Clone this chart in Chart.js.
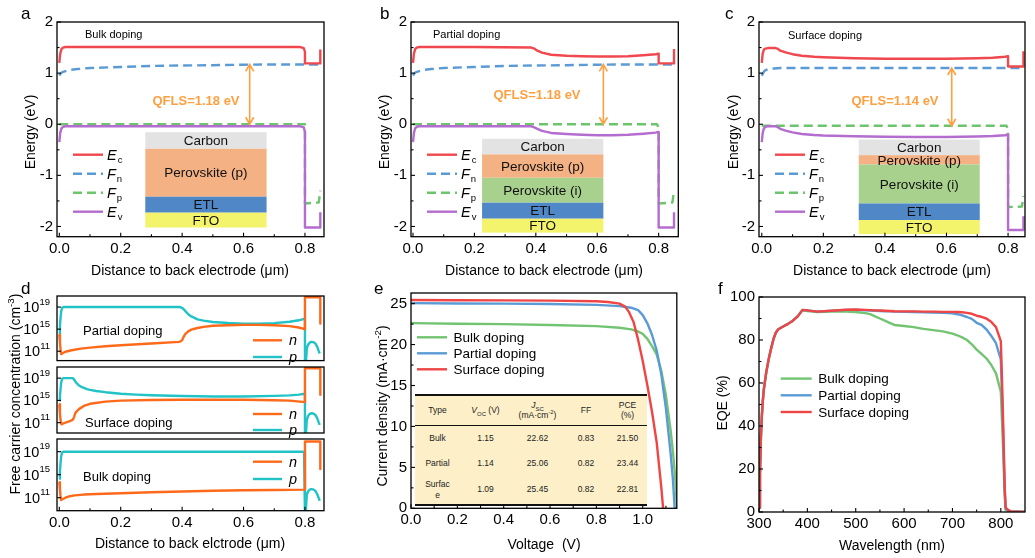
<!DOCTYPE html>
<html><head><meta charset="utf-8">
<script src="https://cdn.jsdelivr.net/npm/chart.js@4.4.0/dist/chart.umd.min.js"></script>
<style>
body{margin:0;width:1035px;height:558px;overflow:hidden;background:#fff;position:relative;font-family:'Liberation Sans',Arial,Helvetica,sans-serif;color:#000;}
.cv{position:absolute;}
.t{position:absolute;white-space:pre;line-height:1;}
.c{transform:translate(-50%,-50%);}
.l{transform:translate(0,-50%);}
.r{transform:translate(-50%,-50%) rotate(-90deg);}
.let{font-size:17px;}
.ax{font-size:14px;}
.q{font-size:13px;font-weight:bold;color:#ffa040;}
.pt{font-size:11px;}
.dl{font-size:13px;}
sup,sub{font-size:70%;line-height:0;}
#tbl{position:absolute;left:415px;top:394px;width:232px;height:110px;border-collapse:collapse;background:#fdf0c8;font-size:8.5px;text-align:center;border-top:2px solid #111;border-bottom:2px solid #111;color:#222;}
#tbl td{padding:0;line-height:1.2;}
#tbl tr.hd td{border-bottom:1.5px solid #111;}
</style></head>
<body>
<canvas id="cA" class="cv"></canvas>
<canvas id="cB" class="cv"></canvas>
<canvas id="cC" class="cv"></canvas>
<canvas id="cD1" class="cv"></canvas>
<canvas id="cD2" class="cv"></canvas>
<canvas id="cD3" class="cv"></canvas>
<canvas id="cE" class="cv"></canvas>
<canvas id="cF" class="cv"></canvas>
<table id="tbl"></table>

<div class="t l let" style="left:21px;top:13px">a</div>
<div class="t l let" style="left:380px;top:13px">b</div>
<div class="t l let" style="left:725px;top:13px">c</div>
<div class="t l let" style="left:21px;top:288px">d</div>
<div class="t l let" style="left:374px;top:288px">e</div>
<div class="t l let" style="left:718px;top:288px">f</div>

<div class="t c ax" style="left:190px;top:270px">Distance to back electrode (μm)</div>
<div class="t c ax" style="left:544px;top:270px">Distance to back electrode (μm)</div>
<div class="t c ax" style="left:892px;top:270px">Distance to back electrode (μm)</div>
<div class="t c ax" style="left:190px;top:543px">Distance to back elctrode (μm)</div>
<div class="t c ax" style="left:544px;top:544px">Voltage  (V)</div>
<div class="t c ax" style="left:892px;top:545px">Wavelength (nm)</div>

<div class="t r ax" style="left:30px;top:132px">Energy (eV)</div>
<div class="t r ax" style="left:384px;top:132px">Energy (eV)</div>
<div class="t r ax" style="left:733px;top:132px">Energy (eV)</div>
<div class="t r ax" style="left:15px;top:394px">Free carrier concentration (cm<sup>-3</sup>)</div>
<div class="t r ax" style="left:382px;top:406px">Current density (mA·cm<sup>-2</sup>)</div>
<div class="t r ax" style="left:722px;top:403px">EQE (%)</div>

<div class="t l pt" style="left:85px;top:34px">Bulk doping</div>
<div class="t l pt" style="left:433px;top:34px">Partial doping</div>
<div class="t l pt" style="left:788px;top:35px">Surface doping</div>
<div class="t c q" style="left:196px;top:100px">QFLS=1.18 eV</div>
<div class="t c q" style="left:537px;top:94px">QFLS=1.18 eV</div>
<div class="t c q" style="left:895px;top:100px">QFLS=1.14 eV</div>

<div class="t l dl" style="left:83px;top:330px">Partial doping</div>
<div class="t l dl" style="left:85px;top:422px">Surface doping</div>
<div class="t l dl" style="left:83px;top:476px">Bulk doping</div>

<script>
// ================= DATA =================
// Band diagrams: tick labels
const bandTicksX = [0, 0.2, 0.4, 0.6, 0.8];
const bandTicksY = [-2, -1, 0, 1, 2];

// (a) Bulk doping
const aEcX = [0, 0.003, 0.007, 0.012, 0.02, 0.4, 0.785, 0.796, 0.8, 0.8, 0.85, 0.85];
const aEcY = [1.2, 1.38, 1.47, 1.5, 1.51, 1.51, 1.51, 1.49, 1.42, 1.19, 1.19, 1.46];
const aFnX = [0, 0.004, 0.01, 0.03, 0.06, 0.1, 0.2, 0.3, 0.4, 0.5, 0.6, 0.7, 0.85];
const aFnY = [0.95, 0.99, 1.02, 1.06, 1.08, 1.1, 1.12, 1.14, 1.15, 1.155, 1.165, 1.17, 1.17];
const aFpX = [0, 0.8, 0.8, 0.845, 0.85];
const aFpY = [0, 0, -1.55, -1.53, -1.3];
const aEvX = [0, 0.003, 0.007, 0.012, 0.02, 0.4, 0.785, 0.796, 0.8, 0.8, 0.85, 0.85];
const aEvY = [-0.35, -0.17, -0.08, -0.05, -0.04, -0.04, -0.04, -0.06, -0.15, -2.02, -2.02, -1.72];

// (b) Partial doping
const bEcX = [0, 0.003, 0.007, 0.012, 0.02, 0.2, 0.385, 0.395, 0.405, 0.42, 0.45, 0.5, 0.55, 0.6, 0.65, 0.7, 0.75, 0.79, 0.8, 0.8, 0.85, 0.85];
const bEcY = [1.2, 1.38, 1.47, 1.5, 1.51, 1.51, 1.5, 1.48, 1.44, 1.4, 1.36, 1.34, 1.33, 1.325, 1.325, 1.33, 1.35, 1.37, 1.38, 1.19, 1.19, 1.47];
const bFnX = [0, 0.004, 0.01, 0.03, 0.06, 0.1, 0.2, 0.3, 0.4, 0.5, 0.6, 0.7, 0.85];
const bFnY = [0.95, 0.99, 1.02, 1.06, 1.08, 1.1, 1.12, 1.14, 1.15, 1.155, 1.165, 1.17, 1.17];
const bFpX = [0, 0.795, 0.8, 0.8, 0.845, 0.85];
const bFpY = [0, 0, -0.08, -1.55, -1.53, -1.3];
const bEvX = [0, 0.003, 0.007, 0.012, 0.02, 0.2, 0.385, 0.395, 0.405, 0.42, 0.45, 0.5, 0.55, 0.6, 0.65, 0.7, 0.75, 0.79, 0.8, 0.8, 0.85, 0.85];
const bEvY = [-0.35, -0.17, -0.08, -0.05, -0.04, -0.04, -0.04, -0.06, -0.09, -0.13, -0.17, -0.19, -0.205, -0.215, -0.215, -0.205, -0.185, -0.165, -0.15, -2.02, -2.02, -1.72];

// (c) Surface doping
const cEcX = [0, 0.003, 0.007, 0.012, 0.02, 0.045, 0.05, 0.055, 0.06, 0.07, 0.08, 0.1, 0.13, 0.17, 0.2, 0.3, 0.4, 0.5, 0.6, 0.7, 0.75, 0.79, 0.8, 0.8, 0.85, 0.85];
const cEcY = [1.2, 1.38, 1.46, 1.48, 1.49, 1.49, 1.48, 1.46, 1.44, 1.42, 1.4, 1.37, 1.34, 1.32, 1.31, 1.29, 1.28, 1.28, 1.28, 1.29, 1.3, 1.32, 1.33, 1.13, 1.13, 1.43];
const cFnX = [0, 0.004, 0.01, 0.02, 0.04, 0.06, 0.1, 0.85];
const cFnY = [0.95, 1.0, 1.05, 1.08, 1.09, 1.1, 1.1, 1.1];
const cFpX = [0, 0.795, 0.8, 0.8, 0.845, 0.85];
const cFpY = [-0.03, -0.03, -0.1, -1.62, -1.61, -1.4];
const cEvX = [0, 0.003, 0.007, 0.012, 0.02, 0.045, 0.05, 0.055, 0.06, 0.07, 0.08, 0.1, 0.13, 0.17, 0.2, 0.3, 0.4, 0.5, 0.6, 0.7, 0.75, 0.79, 0.8, 0.8, 0.85, 0.85];
const cEvY = [-0.35, -0.17, -0.08, -0.05, -0.04, -0.04, -0.05, -0.07, -0.09, -0.11, -0.13, -0.16, -0.19, -0.21, -0.22, -0.235, -0.245, -0.25, -0.25, -0.24, -0.23, -0.215, -0.2, -2.07, -2.07, -1.8];

// (d) carrier concentration (cm^-3)
const concTicksY = [1e11, 1e15, 1e19];
const arcX = [0.8, 0.8, 0.802, 0.806, 0.81, 0.815, 0.82, 0.827, 0.834, 0.84, 0.845, 0.848];
const dPartPX = [0, 0.002, 0.004, 0.006, 0.009, 0.013, 0.39, 0.395, 0.4, 0.405, 0.41, 0.42, 0.43, 0.45, 0.47, 0.5, 0.55, 0.6, 0.65, 0.7, 0.75, 0.78].concat(arcX);
const dPartP = [1e14, 3e15, 1e17, 1.5e18, 7e18, 1e19, 1e19, 9e18, 7e18, 4e18, 2e18, 5e17, 2e17, 6e16, 3.5e16, 2e16, 1.3e16, 1e16, 1e16, 1.2e16, 2.2e16, 4e16,
                8e16, 1e8, 1e8, 3e11, 1.5e12, 3.5e12, 5e12, 4.5e12, 2.5e12, 6e11, 1e11, 4e10];
const dPartNX = [0, 0.002, 0.004, 0.006, 0.008, 0.012, 0.02, 0.04, 0.07, 0.1, 0.15, 0.2, 0.3, 0.39, 0.395, 0.4, 0.405, 0.41, 0.42, 0.43, 0.45, 0.47, 0.5, 0.55, 0.6, 0.65, 0.7, 0.75, 0.78, 0.8, 0.8, 0.85, 0.85];
const dPartN = [1e14, 5e12, 2e11, 3e10, 3.5e10, 5e10, 8e10, 1.5e11, 3e11, 4.5e11, 8e11, 1.2e12, 2.5e12, 5e12, 6e12, 1e13, 4e13, 1.2e14, 4e14, 8e14, 1.6e15, 2.5e15, 4e15, 5e15, 6e15, 6e15, 5e15, 3.5e15, 2e15, 1e15, 6e20, 6e20, 1e16];

const dSurfPX = [0, 0.002, 0.004, 0.006, 0.009, 0.013, 0.042, 0.046, 0.05, 0.054, 0.058, 0.064, 0.07, 0.08, 0.09, 0.1, 0.12, 0.15, 0.2, 0.25, 0.3, 0.4, 0.5, 0.6, 0.7, 0.75, 0.78].concat(arcX);
const dSurfP = [1e15, 5e15, 1e17, 1.5e18, 7e18, 1e19, 1e19, 8e18, 4e18, 1.8e18, 1e18, 5e17, 3e17, 1.8e17, 1.1e17, 8e16, 5e16, 3e16, 1.6e16, 1.1e16, 8.5e15, 6e15, 5e15, 5e15, 6.5e15, 8e15, 1.1e16,
                1.6e16, 1e8, 1e8, 3e11, 1.5e12, 3.5e12, 5e12, 4.5e12, 2.5e12, 6e11, 1e11, 4e10];
const dSurfNX = [0, 0.002, 0.004, 0.007, 0.012, 0.02, 0.03, 0.04, 0.045, 0.048, 0.052, 0.056, 0.06, 0.065, 0.08, 0.1, 0.15, 0.2, 0.3, 0.4, 0.5, 0.6, 0.7, 0.75, 0.8, 0.8, 0.85, 0.85];
const dSurfN = [2e14, 5e12, 3e11, 5e10, 7e10, 1e11, 1.6e11, 2.5e11, 4e11, 1e12, 5e12, 1e13, 1.6e13, 3e13, 1e14, 2.5e14, 6e14, 9e14, 1.2e15, 1.3e15, 1.3e15, 1.3e15, 1.1e15, 9e14, 5e14, 6e20, 6e20, 1e16];

const dBulkPX = [0, 0.002, 0.004, 0.006, 0.009, 0.013, 0.79, 0.797].concat(arcX);
const dBulkP = [2e14, 3e15, 1e17, 1.5e18, 7e18, 1e19, 1e19, 9e18,
                7e18, 1e8, 1e8, 3e11, 1.2e12, 2.5e12, 3e12, 2.8e12, 1.5e12, 4e11, 8e10, 3e10];
const dBulkNX = [0, 0.002, 0.004, 0.006, 0.008, 0.012, 0.02, 0.03, 0.05, 0.08, 0.12, 0.2, 0.3, 0.4, 0.5, 0.6, 0.7, 0.797, 0.8, 0.85, 0.85];
const dBulkN = [5e13, 3e12, 2e11, 4e10, 4e10, 6e10, 1e11, 1.6e11, 2.5e11, 3.5e11, 4.5e11, 6e11, 9e11, 1.2e12, 1.6e12, 2e12, 2.2e12, 2.5e12, 6e20, 6e20, 1e16];

// (e) J-V curves
const jvTicksX = [0, 0.2, 0.4, 0.6, 0.8, 1.0];
const jvTicksY = [0, 5, 10, 15, 20, 25];
const jvBulkV = [0, 0.2, 0.4, 0.6, 0.8, 0.9, 0.95, 0.98, 1.0, 1.02, 1.04, 1.06, 1.08, 1.1, 1.12, 1.13, 1.14, 1.148];
const jvBulkJ = [22.62, 22.55, 22.5, 22.4, 22.25, 22.05, 21.85, 21.6, 21.3, 20.7, 19.8, 18.8, 16.8, 13.8, 9.6, 7.0, 3.8, 0];
const jvPartV = [0, 0.2, 0.4, 0.6, 0.8, 0.9, 0.95, 0.98, 1.0, 1.02, 1.04, 1.06, 1.08, 1.1, 1.12, 1.13, 1.138];
const jvPartJ = [25.06, 25.02, 25.0, 24.95, 24.85, 24.7, 24.5, 24.2, 23.6, 22.6, 21.2, 19.3, 16.4, 12.2, 6.8, 3.6, 0];
const jvSurfV = [0, 0.2, 0.4, 0.6, 0.8, 0.85, 0.9, 0.925, 0.94, 0.96, 0.98, 1.0, 1.02, 1.04, 1.06, 1.08, 1.088];
const jvSurfJ = [25.45, 25.42, 25.4, 25.37, 25.3, 25.2, 25.0, 24.6, 24.0, 22.8, 20.6, 18.0, 15.0, 11.8, 8.1, 2.6, 0];

// table in (e)
const tblTypes = ['Bulk', 'Partial', 'Surfac\ne'];
const tblVoc = ['1.15', '1.14', '1.09'];
const tblJsc = ['22.62', '25.06', '25.45'];
const tblFF = ['0.83', '0.82', '0.82'];
const tblPCE = ['21.50', '23.44', '22.81'];

// (f) EQE
const eqeTicksX = [300, 400, 500, 600, 700, 800];
const eqeTicksY = [0, 20, 40, 60, 80, 100];
const eqeWl = [300, 302, 304, 306, 308, 310, 315, 320, 325, 330, 335, 340, 350, 360, 370, 380, 385, 390, 400, 420, 450, 480, 500, 520, 530, 540, 550, 560, 570, 580, 600, 620, 640, 660, 680, 700, 710, 720, 730, 740, 750, 760, 770, 780, 790, 800, 802, 805, 808, 810, 815, 820, 850];
const eqeSurf = [2, 18, 35, 45, 52, 57, 65, 71, 76, 80.5, 83.5, 85, 86.3, 87.5, 89, 91, 92.5, 94, 93.8, 93.2, 93.6, 94.1, 94.2, 94, 93.9, 93.8, 93.7, 93.6, 93.5, 93.4, 93.3, 93.3, 93.2, 93.2, 93.1, 93.1, 93, 92.9, 92.6, 92.2, 91.3, 90.8, 90, 88.5, 86, 79.5, 65, 40, 12, 2, 1, 0.3, 0];
const eqePart = [2, 18, 35, 45, 52, 57, 65, 71, 76, 80.5, 83.5, 85, 86.3, 87.5, 89, 91, 92.5, 94, 93.8, 93.2, 93.6, 94, 94, 93.8, 93.7, 93.6, 93.5, 93.4, 93.3, 93.2, 93.1, 93, 92.9, 92.8, 92.7, 92.4, 92, 91.5, 90.7, 89.8, 88, 87, 85, 82, 78.5, 71, 58, 35, 10, 1.5, 0.8, 0.3, 0];
const eqeBulk = [2, 18, 35, 45, 52, 57, 65, 71, 76, 80.5, 83.5, 85, 86.3, 87.5, 89, 91, 92.5, 93.8, 93.5, 93, 93.2, 93.2, 93, 92.5, 92, 91, 90, 89, 88, 87, 86.5, 86, 85.2, 84.6, 84, 83, 82.2, 81.2, 80, 78, 75.5, 73.5, 71.5, 68.5, 64.5, 56, 45, 28, 8, 1, 0.5, 0.3, 0];

// ================= RENDERING =================
const FONT = "'Liberation Sans', Arial, Helvetica, sans-serif";
Chart.defaults.font.family = FONT;
Chart.defaults.color = '#000';

const pts = (xs, ys) => xs.map((x, i) => ({x: x, y: ys[i]}));
const COL = {ec: '#f0484e', fn: '#5b9bd5', fp: '#6cc56c', ev: '#b46ccf', n: '#ff6a1a', p: '#22c3c6',
             green: '#72c472', blue: '#5b9bd5', red: '#ef4545', orange: '#ffa040'};
const DASH = [9, 5];

const DECOR = {};
function ticksOf(major, min, max) {
  const step = major[1] - major[0], out = [];
  const cand = major.map(v => v + step / 2).concat([major[0] - step / 2]);
  cand.forEach(v => { if (v > min + 1e-9 && v < max - 1e-9) out.push(v); });
  return out;
}
const decorPlugin = {
  id: 'decor',
  beforeDatasetsDraw(chart) {
    const d = DECOR[chart.canvas.id]; if (!d || !d.inset) return;
    const ctx = chart.ctx, sx = chart.scales.x, sy = chart.scales.y;
    const xl = sx.getPixelForValue(d.inset.x[0]), xr = sx.getPixelForValue(d.inset.x[1]);
    ctx.save();
    d.inset.layers.forEach(L => {
      const yt = sy.getPixelForValue(L.top), yb = sy.getPixelForValue(L.bottom);
      ctx.fillStyle = L.color; ctx.fillRect(xl, yt, xr - xl, yb - yt);
    });
    d.inset.layers.forEach(L => {
      const yt = sy.getPixelForValue(L.top), yb = sy.getPixelForValue(L.bottom);
      ctx.fillStyle = '#111'; ctx.font = '13.5px ' + FONT; ctx.textAlign = 'center'; ctx.textBaseline = 'middle';
      ctx.fillText(L.name, (xl + xr) / 2, (yt + yb) / 2 + 1);
    });
    ctx.restore();
  },
  afterDatasetsDraw(chart) {
    const d = DECOR[chart.canvas.id]; if (!d) return;
    const ctx = chart.ctx, a = chart.chartArea, sx = chart.scales.x, sy = chart.scales.y;
    ctx.save();
    if (d.arrow) {
      const x = sx.getPixelForValue(d.arrow.x), y1 = sy.getPixelForValue(d.arrow.y1), y2 = sy.getPixelForValue(d.arrow.y2);
      ctx.strokeStyle = COL.orange; ctx.lineWidth = 1.6; ctx.setLineDash([]);
      ctx.beginPath(); ctx.moveTo(x, y1); ctx.lineTo(x, y2);
      ctx.moveTo(x - 4, y1 + 7); ctx.lineTo(x, y1); ctx.lineTo(x + 4, y1 + 7);
      ctx.moveTo(x - 4, y2 - 7); ctx.lineTo(x, y2); ctx.lineTo(x + 4, y2 - 7);
      ctx.stroke();
    }
    if (d.legend) {
      const L = d.legend;
      L.rows.forEach(r => {
        const ds = chart.data.datasets[r.ds], y = a.top + r.dy;
        ctx.save();
        ctx.strokeStyle = ds.borderColor; ctx.lineWidth = ds.borderWidth; ctx.setLineDash(ds.borderDash || []);
        ctx.beginPath(); ctx.moveTo(a.left + L.x0, y); ctx.lineTo(a.left + L.x1, y); ctx.stroke();
        ctx.restore();
        ctx.fillStyle = '#000'; ctx.textAlign = 'left'; ctx.textBaseline = 'middle';
        ctx.font = (L.italic ? 'italic ' : '') + L.size + 'px ' + FONT;
        ctx.fillText(r.text, a.left + L.tx, y + 1);
        if (r.sub) {
          const w = ctx.measureText(r.text).width;
          ctx.font = L.subSize + 'px ' + FONT;
          ctx.fillText(r.sub, a.left + L.tx + w + 1, y + 6);
        }
      });
    }
    // frame
    ctx.strokeStyle = '#000'; ctx.lineWidth = 1.3; ctx.setLineDash([]);
    ctx.strokeRect(a.left, a.top, a.right - a.left, a.bottom - a.top);
    ctx.lineWidth = 1.1;
    if (d.xt) {
      const draw = (v, len) => { const p = sx.getPixelForValue(v); ctx.beginPath(); ctx.moveTo(p, a.bottom); ctx.lineTo(p, a.bottom - len); ctx.stroke(); };
      d.xt.forEach(v => draw(v, 4));
      ticksOf(d.xt, sx.min, sx.max).forEach(v => draw(v, 2.5));
    }
    if (d.yt) {
      const draw = (v, len) => { const p = sy.getPixelForValue(v); ctx.beginPath(); ctx.moveTo(a.left, p); ctx.lineTo(a.left + len, p); ctx.stroke(); };
      d.yt.forEach(v => draw(v, 4));
      if (!d.log) ticksOf(d.yt, sy.min, sy.max).forEach(v => draw(v, 2.5));
    }
    if (d.log) {
      ctx.fillStyle = '#000'; ctx.textBaseline = 'middle'; ctx.textAlign = 'right';
      d.yt.forEach(v => {
        const p = sy.getPixelForValue(v), e = String(Math.round(Math.log10(v)));
        ctx.font = '9.5px ' + FONT;
        const ew = ctx.measureText(e).width;
        ctx.fillText(e, a.left - 7, p - 5);
        ctx.font = '14.5px ' + FONT;
        ctx.fillText('10', a.left - 7 - ew, p + 1);
      });
    }
    ctx.restore();
  }
};

function makeChart(id, area, o) {
  const M = {l: 62, t: 20, r: 10, b: o.xHidden ? 6 : 48};
  const cv = document.getElementById(id);
  const aw = area.r - area.l, ah = area.b - area.t;
  const w = Math.ceil(aw + M.l + M.r), h = Math.ceil(ah + M.t + M.b);
  const padR = w - M.l - aw, bottomSpace = h - M.t - ah;
  cv.style.left = (area.l - M.l) + 'px'; cv.style.top = (area.t - M.t) + 'px';
  cv.width = w; cv.height = h; cv.style.width = w + 'px'; cv.style.height = h + 'px';
  DECOR[id] = o.decor;
  return new Chart(cv, {
    type: 'line',
    data: {datasets: o.datasets},
    options: {
      responsive: false, animation: false, events: [],
      layout: {padding: {left: 0, top: M.t, right: padR, bottom: o.xHidden ? bottomSpace : 0}},
      plugins: {legend: {display: false}, tooltip: {enabled: false}},
      elements: {point: {radius: 0}, line: {tension: 0, borderJoinStyle: 'round'}},
      scales: {
        x: {type: 'linear', min: o.x.min, max: o.x.max, display: !o.xHidden,
            afterFit: s => { s.height = bottomSpace; },
            afterBuildTicks: s => { s.ticks = o.x.ticks.map(v => ({value: v})); },
            grid: {display: false, drawTicks: false}, border: {display: false},
            ticks: {padding: 3, font: {size: 15}, color: '#000', maxRotation: 0, autoSkip: false, callback: o.x.fmt}},
        y: {type: o.y.log ? 'logarithmic' : 'linear', min: o.y.min, max: o.y.max,
            afterFit: s => { s.width = M.l; },
            afterBuildTicks: s => { s.ticks = o.y.ticks.map(v => ({value: v})); },
            grid: {display: false, drawTicks: false}, border: {display: false},
            ticks: {display: !o.y.log, padding: 4, font: {size: 15}, color: '#000', autoSkip: false, callback: o.y.fmt}}
      }
    },
    plugins: [decorPlugin]
  });
}

const fmt1 = v => Number(v).toFixed(1);
const fmt0 = v => String(v);
const line = (data, color, order, dash) => ({data: data, borderColor: color, borderWidth: 2.4, borderDash: dash || [], order: order, fill: false, pointRadius: 0});

function bandPanel(id, area, xr, s, inset, arrow) {
  makeChart(id, area, {
    x: {min: xr[0], max: xr[1], ticks: bandTicksX, fmt: fmt1},
    y: {min: -2.2, max: 2, ticks: bandTicksY, fmt: fmt0},
    datasets: [line(pts(s[0], s[1]), COL.ec, 1), line(pts(s[2], s[3]), COL.fn, 2, DASH),
               line(pts(s[4], s[5]), COL.fp, 2, DASH), line(pts(s[6], s[7]), COL.ev, 1)],
    decor: {xt: bandTicksX, yt: bandTicksY, inset: inset, arrow: arrow,
      legend: {x0: 16, x1: 46, tx: 50, size: 14.5, subSize: 9.5, italic: true,
        rows: [{ds: 0, text: 'E', sub: 'c', dy: 132.7}, {ds: 1, text: 'F', sub: 'n', dy: 151.7},
               {ds: 2, text: 'F', sub: 'p', dy: 170.7}, {ds: 3, text: 'E', sub: 'v', dy: 189.7}]}}
  });
}
const LC = {carbon: '#e3e3e3', pp: '#f4b183', pi: '#a9d18e', etl: '#4f87c7', fto: '#f4f46c'};
bandPanel('cA', {l: 57, t: 22.3, r: 324, b: 237}, [-0.0075, 0.862],
  [aEcX, aEcY, aFnX, aFnY, aFpX, aFpY, aEvX, aEvY],
  {x: [0.28, 0.675], layers: [
    {name: 'Carbon', top: -0.156, bottom: -0.48, color: LC.carbon},
    {name: 'Perovskite (p)', top: -0.48, bottom: -1.418, color: LC.pp},
    {name: 'ETL', top: -1.418, bottom: -1.73, color: LC.etl},
    {name: 'FTO', top: -1.73, bottom: -2.02, color: LC.fto}]},
  {x: 0.62, y1: 1.17, y2: 0});
bandPanel('cB', {l: 410.7, t: 22.3, r: 678, b: 237}, [-0.0065, 0.864],
  [bEcX, bEcY, bFnX, bFnY, bFpX, bFpY, bEvX, bEvY],
  {x: [0.225, 0.62], layers: [
    {name: 'Carbon', top: -0.285, bottom: -0.59, color: LC.carbon},
    {name: 'Perovskite (p)', top: -0.59, bottom: -1.047, color: LC.pp},
    {name: 'Perovskite (i)', top: -1.047, bottom: -1.535, color: LC.pi},
    {name: 'ETL', top: -1.535, bottom: -1.848, color: LC.etl},
    {name: 'FTO', top: -1.848, bottom: -2.12, color: LC.fto}]},
  {x: 0.62, y1: 1.17, y2: 0});
bandPanel('cC', {l: 759, t: 22.3, r: 1025, b: 237}, [-0.009, 0.855],
  [cEcX, cEcY, cFnX, cFnY, cFpX, cFpY, cEvX, cEvY],
  {x: [0.315, 0.708], layers: [
    {name: 'Carbon', top: -0.3, bottom: -0.605, color: LC.carbon},
    {name: 'Perovskite (p)', top: -0.605, bottom: -0.787, color: LC.pp},
    {name: 'Perovskite (i)', top: -0.787, bottom: -1.55, color: LC.pi},
    {name: 'ETL', top: -1.55, bottom: -1.875, color: LC.etl},
    {name: 'FTO', top: -1.875, bottom: -2.15, color: LC.fto}]},
  {x: 0.617, y1: 1.1, y2: -0.03});

function concPanel(id, area, yr, nX, nY, pX, pY, dyN, dyP, showX) {
  makeChart(id, area, {
    xHidden: !showX,
    x: {min: -0.0075, max: 0.862, ticks: bandTicksX, fmt: fmt1},
    y: {log: true, min: yr[0], max: yr[1], ticks: concTicksY},
    datasets: [line(pts(nX, nY), COL.n, 0), line(pts(pX, pY), COL.p, 1)],
    decor: {xt: showX ? bandTicksX : null, yt: concTicksY, log: true,
      legend: {x0: 196, x1: 225, tx: 232, size: 14.5, italic: true,
        rows: [{ds: 0, text: 'n', dy: dyN}, {ds: 1, text: 'p', dy: dyP}]}}
  });
}
concPanel('cD1', {l: 57, t: 295.7, r: 324, b: 367}, [2e9, 1e21], dPartNX, dPartN, dPartPX, dPartP, 44.3, 61, false);
concPanel('cD2', {l: 57, t: 367, r: 324, b: 439}, [1.4e9, 1e21], dSurfNX, dSurfN, dSurfPX, dSurfP, 47, 63, false);
concPanel('cD3', {l: 57, t: 439, r: 324, b: 510.7}, [5.5e8, 1.6e21], dBulkNX, dBulkN, dBulkPX, dBulkP, 22.7, 40, true);

makeChart('cE', {l: 410.7, t: 293, r: 676.5, b: 508.3}, {
  x: {min: 0, max: 1.147, ticks: jvTicksX, fmt: fmt1},
  y: {min: 0, max: 26.3, ticks: jvTicksY, fmt: fmt0},
  datasets: [line(pts(jvBulkV, jvBulkJ), COL.green, 2), line(pts(jvPartV, jvPartJ), COL.blue, 1), line(pts(jvSurfV, jvSurfJ), COL.red, 0)],
  decor: {xt: jvTicksX, yt: jvTicksY,
    legend: {x0: 6, x1: 36, tx: 42.6, size: 13.5, italic: false,
      rows: [{ds: 0, text: 'Bulk doping', dy: 44.3}, {ds: 1, text: 'Partial doping', dy: 60.3}, {ds: 2, text: 'Surface doping', dy: 76.3}]}}
});

makeChart('cF', {l: 759, t: 296.7, r: 1025, b: 511.7}, {
  x: {min: 300, max: 850, ticks: eqeTicksX, fmt: fmt0},
  y: {min: 0, max: 100, ticks: eqeTicksY, fmt: fmt0},
  datasets: [line(pts(eqeWl, eqeBulk), COL.green, 2), line(pts(eqeWl, eqePart), COL.blue, 1), line(pts(eqeWl, eqeSurf), COL.red, 0)],
  decor: {xt: eqeTicksX, yt: eqeTicksY,
    legend: {x0: 21.7, x1: 52.7, tx: 59.3, size: 13.5, italic: false,
      rows: [{ds: 0, text: 'Bulk doping', dy: 81.6}, {ds: 1, text: 'Partial doping', dy: 98.3}, {ds: 2, text: 'Surface doping', dy: 115}]}}
});

// table
(function () {
  const t = document.getElementById('tbl');
  const widths = [45, 51, 53, 44, 39];
  let html = '<colgroup>' + widths.map(w => '<col style="width:' + w + 'px">').join('') + '</colgroup>';
  html += '<tr class="hd" style="height:30px"><td>Type</td><td><i>V</i><sub>OC</sub> (V)</td><td><i>J</i><sub>SC</sub><br>(mA·cm<sup>-2</sup>)</td><td>FF</td><td>PCE<br>(%)</td></tr>';
  const hs = [26, 24, 30];
  tblTypes.forEach((ty, i) => {
    html += '<tr style="height:' + hs[i] + 'px"><td>' + ty.replace('\n', '<br>') + '</td><td>' + tblVoc[i] + '</td><td>' + tblJsc[i] + '</td><td>' + tblFF[i] + '</td><td>' + tblPCE[i] + '</td></tr>';
  });
  t.innerHTML = html;
})();
</script>
</body></html>
